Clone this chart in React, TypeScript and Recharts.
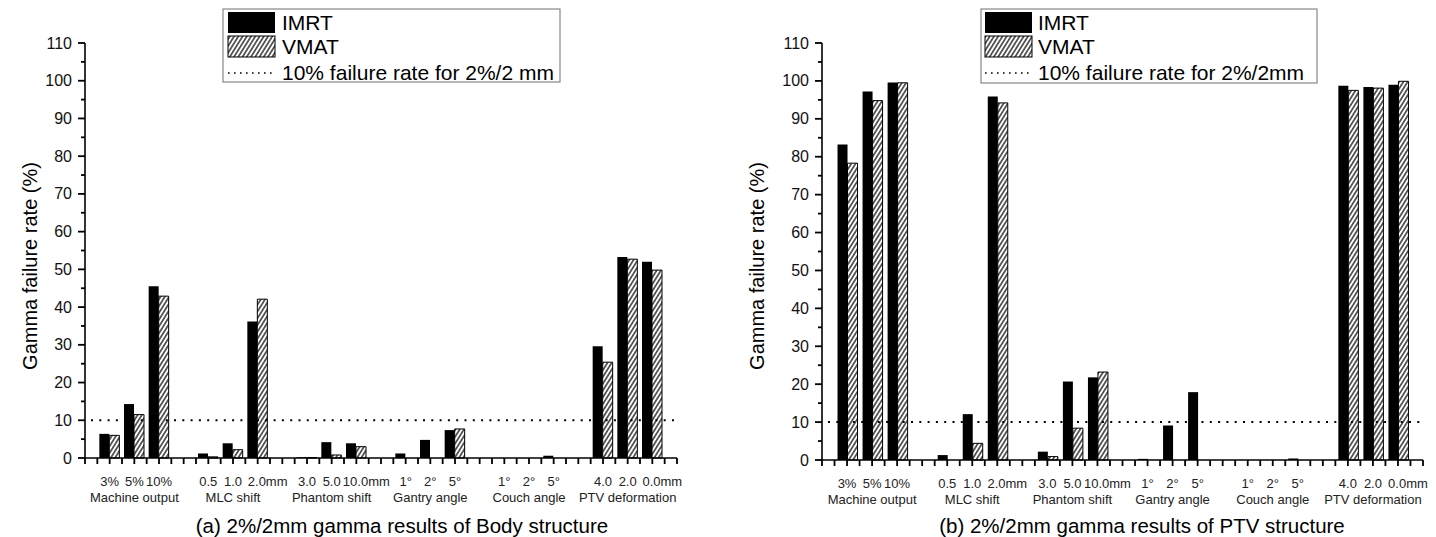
import { BarChart, Bar, XAxis, YAxis, ReferenceLine } from "recharts";

// categories: six groups of three levels, one empty slot between groups
const groupNames = [
  "Machine output",
  "MLC shift",
  "Phantom shift",
  "Gantry angle",
  "Couch angle",
  "PTV deformation",
];
const levelLabels = [
  "3%", "5%", "10%",
  "0.5", "1.0", "2.0mm",
  "3.0", "5.0", "10.0mm",
  "1°", "2°", "5°",
  "1°", "2°", "5°",
  "4.0", "2.0", "0.0mm",
];

// (a) Body structure
const bodyImrt = [6.4, 14.3, 45.5, 1.2, 3.9, 36.2, 0.2, 4.2, 3.9, 1.2, 4.8, 7.4, 0, 0, 0.6, 29.6, 53.3, 52.0];
const bodyVmat = [6.0, 11.5, 42.9, 0.3, 2.2, 42.1, 0.1, 0.8, 3.0, 0, 0, 7.7, 0, 0, 0, 25.4, 52.7, 49.8];

// (b) PTV structure
const ptvImrt = [83.2, 97.2, 99.6, 1.3, 12.1, 95.9, 2.2, 20.7, 21.8, 0.3, 9.1, 17.9, 0, 0, 0.4, 98.7, 98.4, 99.0];
const ptvVmat = [78.3, 94.8, 99.5, 0, 4.4, 94.2, 0.9, 8.4, 23.2, 0, 0, 0, 0, 0, 0, 97.5, 98.1, 99.9];

const yTicks = [0, 5, 10, 15, 20, 25, 30, 35, 40, 45, 50, 55, 60, 65, 70, 75, 80, 85, 90, 95, 100, 105, 110];
const failureLimit = 10;

const FONT = "'Liberation Sans', Arial, Helvetica, sans-serif";

// x slot of a level: group * 4 + level + 1 (axis runs 0..24)
const slotOf = (i: number) => Math.floor(i / 3) * 4 + (i % 3) + 1;
const xTicks = Array.from({ length: 49 }, (_, i) => i / 2);

const buildRows = (imrt: number[], vmat: number[]) =>
  levelLabels.map((label, i) => ({ x: slotOf(i), label, imrt: imrt[i], vmat: vmat[i] }));

const bodyRows = buildRows(bodyImrt, bodyVmat);
const ptvRows = buildRows(ptvImrt, ptvVmat);

const XTick = (props: any) => {
  const { x, y, payload } = props;
  const v = payload.value;
  let level: string | null = null;
  let group: string | null = null;
  if (Number.isInteger(v) && v % 4 !== 0) {
    const gi = Math.floor((v - 1) / 4);
    const li = (v - 1) % 4;
    level = levelLabels[gi * 3 + li];
    if (li === 1) group = groupNames[gi];
  }
  const dx = level && level.endsWith("mm") ? 10 : 0;
  return (
    <g>
      <rect x={x - 0.9} y={y} width={1.8} height={6} fill="#000" />
      {level && (
        <text x={x + dx} y={y + 23} textAnchor="middle" dominantBaseline="central"
          fontSize={13} fontFamily={FONT} fill="#222">
          {level}
        </text>
      )}
      {group && (
        <text x={x} y={y + 39} textAnchor="middle" dominantBaseline="central"
          fontSize={13} fontFamily={FONT} fill="#222">
          {group}
        </text>
      )}
    </g>
  );
};

const YTick = (props: any) => {
  const { x, y, payload } = props;
  const v = payload.value;
  const major = v % 10 === 0;
  const len = major ? 7 : 4;
  return (
    <g>
      <rect x={x - len} y={y - 0.9} width={len} height={1.8} fill="#000" />
      {major && (
        <text x={x - 13} y={y} textAnchor="end" dominantBaseline="central"
          fontSize={16} fontFamily={FONT} fill="#111">
          {v}
        </text>
      )}
    </g>
  );
};

const Hatch = ({ id }: { id: string }) => (
  <pattern id={id} width="3.6" height="10" patternUnits="userSpaceOnUse" patternTransform="rotate(32)">
    <rect width="3.6" height="10" fill="#fff" />
    <line x1="1.8" y1="0" x2="1.8" y2="10" stroke="#111" strokeWidth="1.3" />
  </pattern>
);

interface PanelProps {
  rows: typeof bodyRows;
  hatchId: string;
  margin: { top: number; right: number; bottom: number; left: number };
}

const Panel = ({ rows, hatchId, margin }: PanelProps) => (
  <BarChart width={718} height={537} data={rows} margin={margin} barGap={0}>
    <defs>
      <Hatch id={hatchId} />
    </defs>
    <XAxis
      type="number"
      dataKey="x"
      domain={[0, 24]}
      ticks={xTicks}
      interval={0}
      height={50}
      tickSize={0}
      tickMargin={0}
      tickLine={false}
      tick={<XTick />}
      axisLine={{ stroke: "#000", strokeWidth: 1.6 }}
    />
    <YAxis
      type="number"
      domain={[0, 110]}
      ticks={yTicks}
      interval={0}
      width={60}
      tickSize={0}
      tickMargin={0}
      tickLine={false}
      tick={<YTick />}
      axisLine={{ stroke: "#000", strokeWidth: 1.6 }}
    />
    <Bar dataKey="imrt" fill="#000" barSize={10} isAnimationActive={false} />
    <Bar dataKey="vmat" fill={`url(#${hatchId})`} stroke="#000" strokeWidth={1} barSize={10} isAnimationActive={false} />
    <ReferenceLine y={failureLimit} stroke="#000" strokeWidth={2} strokeDasharray="2 6.3" strokeDashoffset={-6} />
  </BarChart>
);

const LegendBox = ({ x, y, w, h, sw, tx, last }: { x: number; y: number; w: number; h: number; sw: number; tx: number; last: string }) => (
  <g>
    <rect x={x} y={y} width={w} height={h} fill="#fff" stroke="#888" strokeWidth={1.2} />
    <rect x={x + sw} y={y + 3} width={47} height={21} fill="#000" />
    <rect x={x + sw} y={y + 27} width={47} height={21} fill="url(#hatchLegend)" stroke="#000" strokeWidth={1} />
    <line x1={x + sw} x2={x + sw + 47} y1={y + 64} y2={y + 64} stroke="#000" strokeWidth={1.6} strokeDasharray="1.6 4.4" />
    <text x={x + tx} y={y + 13.5} dominantBaseline="central" fontSize={21} fontFamily={FONT} fill="#000">IMRT</text>
    <text x={x + tx} y={y + 37.5} dominantBaseline="central" fontSize={21} fontFamily={FONT} fill="#000">VMAT</text>
    <text x={x + tx} y={y + 63} dominantBaseline="central" fontSize={21} fontFamily={FONT} fill="#000">{last}</text>
  </g>
);

export default function App() {
  return (
    <div style={{ position: "absolute", left: 0, top: 0, width: 1436, height: 537, background: "#fff", fontFamily: FONT }}>
      <div style={{ position: "absolute", left: 0, top: 0 }}>
        <Panel rows={bodyRows} hatchId="hatchBody" margin={{ top: 43, right: 41, bottom: 29, left: 25 }} />
      </div>
      <div style={{ position: "absolute", left: 718, top: 0 }}>
        <Panel rows={ptvRows} hatchId="hatchPtv" margin={{ top: 43, right: 13, bottom: 27, left: 44 }} />
      </div>
      <svg width={1436} height={537} style={{ position: "absolute", left: 0, top: 0, pointerEvents: "none" }}>
        <defs>
          <Hatch id="hatchLegend" />
        </defs>
        <text x={30} y={266} transform="rotate(-90 30 266)" textAnchor="middle" dominantBaseline="central"
          fontSize={20} fontFamily={FONT} fill="#000">
          Gamma failure rate (%)
        </text>
        <text x={757} y={266} transform="rotate(-90 757 266)" textAnchor="middle" dominantBaseline="central"
          fontSize={20} fontFamily={FONT} fill="#000">
          Gamma failure rate (%)
        </text>
        <text x={402} y={533} textAnchor="middle" fontSize={20.5} fontFamily={FONT} fill="#000">
          (a) 2%/2mm gamma results of Body structure
        </text>
        <text x={1142} y={533} textAnchor="middle" fontSize={20.5} fontFamily={FONT} fill="#000">
          (b) 2%/2mm gamma results of PTV structure
        </text>
        <LegendBox x={223} y={9} w={337} h={73} sw={5} tx={59} last="10% failure rate for 2%/2 mm" />
        <LegendBox x={981} y={9} w={336} h={74} sw={4} tx={57} last="10% failure rate for 2%/2mm" />
      </svg>
    </div>
  );
}
